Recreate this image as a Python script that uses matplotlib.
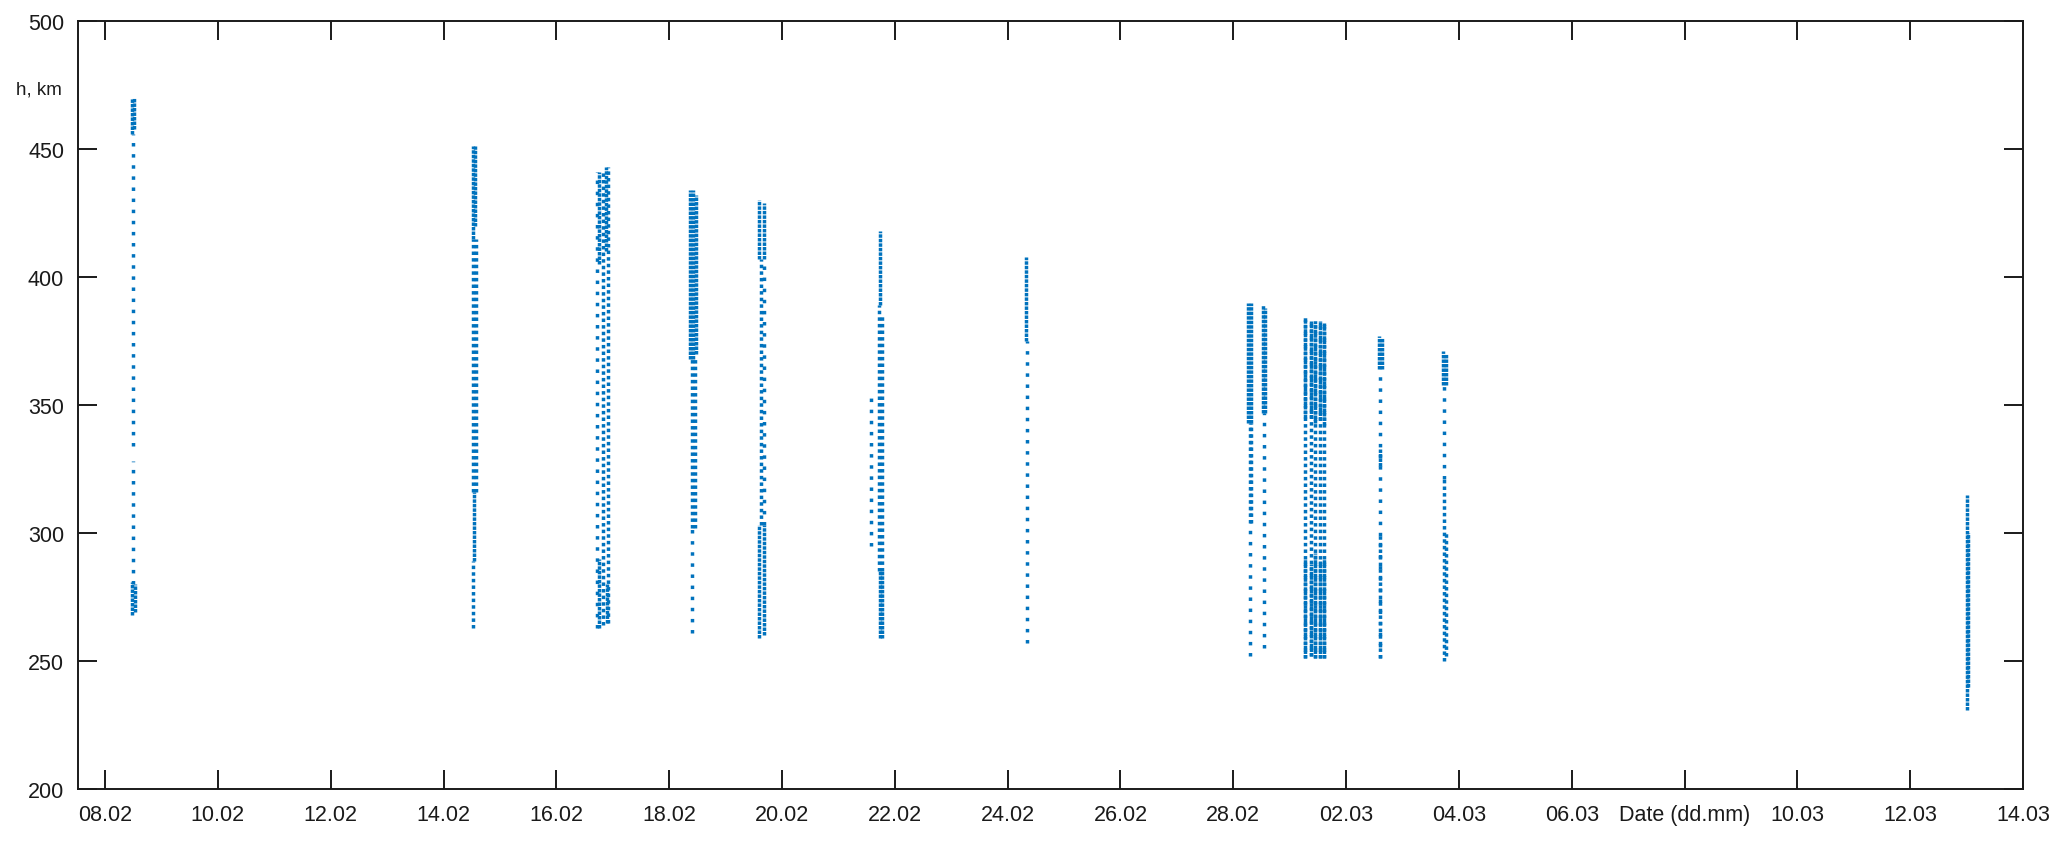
import matplotlib
matplotlib.use("Agg")
import matplotlib.pyplot as plt

# ---- data: observation runs (date as day count: Feb d -> d, Mar d -> 28 + d), heights in km ----
# each run: x position (day), lower height, upper height, sampling density class
run_day = [
    8.47, 8.52, 8.50, 8.50, 8.47, 8.53,
    14.52, 14.56, 14.53, 14.58, 14.54, 14.53,
    16.72, 16.82, 16.92, 16.76, 16.88, 16.75, 16.90,
    18.37, 18.43, 18.48, 18.40, 18.46, 18.40,
    19.60, 19.68, 19.62, 19.68, 19.60, 19.68,
    21.74, 21.72, 21.78, 21.73, 21.78, 21.57,
    24.33, 24.34,
    28.27, 28.32, 28.29, 28.32, 28.29,
    28.52, 28.57, 28.54,
    29.28, 29.37, 29.45, 29.54, 29.61,
    29.28, 29.37, 29.45, 29.54, 29.61,
    29.28, 29.37, 29.45, 29.54, 29.61,
    30.58, 30.63, 30.60, 30.60, 30.61,
    31.72, 31.78, 31.74, 31.73, 31.78,
    41.00, 41.03,
]
run_h_lo = [
    456, 458, 334, 280, 268, 269,
    415, 420, 316, 316, 289, 263,
    263, 264, 265, 405, 410, 263, 265,
    368, 368, 370, 302, 302, 261,
    407, 407, 303, 303, 259, 260,
    389, 285, 285, 259, 259, 295,
    375, 257,
    343, 343, 304, 304, 252,
    347, 347, 255,
    251, 252, 251, 251, 251,
    345, 345, 343, 344, 342,
    251, 252, 251, 251, 251,
    364, 364, 251, 326, 251,
    358, 358, 321, 250, 252,
    231, 240,
]
run_h_hi = [
    470, 470, 456, 328, 281, 280,
    451, 451, 415, 415, 316, 289,
    441, 441, 443, 441, 443, 290, 280,
    434, 434, 432, 368, 368, 302,
    430, 429, 407, 407, 303, 303,
    418, 389, 385, 285, 285, 353,
    408, 375,
    390, 390, 343, 343, 304,
    389, 388, 347,
    384, 383, 383, 383, 382,
    384, 383, 383, 383, 382,
    290, 288, 292, 289, 290,
    377, 376, 364, 333, 300,
    371, 370, 358, 321, 300,
    315, 300,
]
run_kind = [
    "dense", "dense", "sparse", "sparse", "dense", "dense",
    "dense", "dense", "medium", "medium", "dense", "medium",
    "sparse", "medium", "medium", "dense", "dense", "dense", "dense",
    "dense", "dense", "dense", "medium", "medium", "sparse",
    "dense", "dense", "medium", "sparse", "dense", "dense",
    "dense", "medium", "medium", "dense", "dense", "sparse",
    "dense", "sparse",
    "dense", "dense", "medium", "medium", "sparse",
    "dense", "dense", "sparse",
    "medium", "medium", "medium", "medium", "medium",
    "dense", "dense", "dense", "dense", "dense",
    "dense", "dense", "dense", "dense", "dense",
    "dense", "dense", "sparse", "dense", "medium",
    "dense", "dense", "sparse", "medium", "medium",
    "dense", "dense",
]

tick_days = [8, 10, 12, 14, 16, 18, 20, 22, 24, 26, 28, 30, 32, 34, 36, 38, 40, 42]
tick_labels = ["08.02", "10.02", "12.02", "14.02", "16.02", "18.02", "20.02", "22.02",
               "24.02", "26.02", "28.02", "02.03", "04.03", "06.03", "Date (dd.mm)",
               "10.03", "12.03", "14.03"]
y_ticks = [200, 250, 300, 350, 400, 450, 500]

# ---- style ----
plt.rcParams['font.family'] = ['Liberation Sans', 'DejaVu Sans']
color = '#0072BD'
styles = {
    "dense": (0, (1, 0.3)),
    "medium": (0, (1, 0.9)),
    "sparse": (0, (1, 2.2)),
}

fig = plt.figure(figsize=(20.67, 8.45), dpi=100)
ax = fig.add_axes([78 / 2067, 55 / 845, (2023 - 78) / 2067, (790 - 22) / 845])

for kind, ls in styles.items():
    xs = [d for d, k in zip(run_day, run_kind) if k == kind]
    lo = [v for v, k in zip(run_h_lo, run_kind) if k == kind]
    hi = [v for v, k in zip(run_h_hi, run_kind) if k == kind]
    ax.vlines(xs, lo, hi, colors=color, linestyles=ls, linewidth=2.5)

ax.set_xlim(7.52, 42)
ax.set_ylim(200, 500)
ax.set_xticks(tick_days)
ax.set_xticklabels(tick_labels)
ax.set_yticks(y_ticks)
for lab in ax.get_xticklabels():
    if lab.get_text().startswith("Date"):
        lab.set_fontsize(13.5)
ax.tick_params(axis='both', direction='in', top=True, right=True, length=14,
               width=1.4, labelsize=15.5, color='#1a1a1a', labelcolor='#1a1a1a')
ax.tick_params(axis='x', pad=11)
ax.tick_params(axis='y', pad=10)
for s in ax.spines.values():
    s.set_linewidth(1.4)
    s.set_color('#1a1a1a')

ax.text(-0.0082, 473.4, "h, km", transform=ax.get_yaxis_transform(),
        ha='right', va='center', fontsize=13.5, color='#1a1a1a')

fig.savefig("out.png", dpi=100)
